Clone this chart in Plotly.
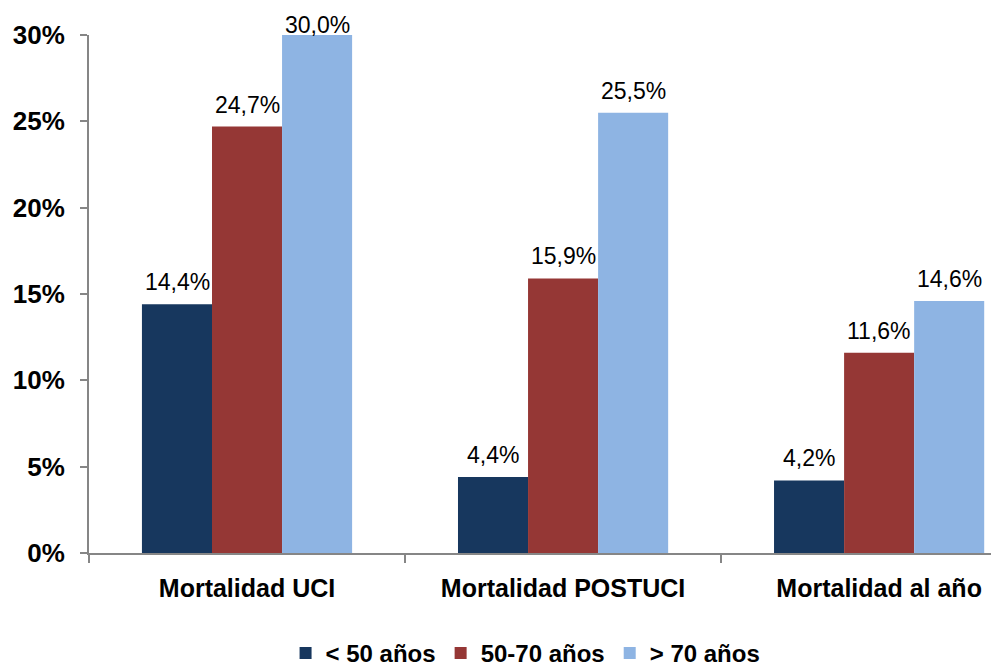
import plotly.graph_objects as go

categories = ["Mortalidad UCI", "Mortalidad POSTUCI", "Mortalidad al año"]
series_names = ["< 50 años", "50-70 años", "> 70 años"]
values_lt50 = [0.144, 0.044, 0.042]
values_50_70 = [0.247, 0.159, 0.116]
values_gt70 = [0.300, 0.255, 0.146]
labels_lt50 = ["14,4%", "4,4%", "4,2%"]
labels_50_70 = ["24,7%", "15,9%", "11,6%"]
labels_gt70 = ["30,0%", "25,5%", "14,6%"]
colors = ["#17375E", "#953735", "#8EB4E3"]
y_ticks = [0, 0.05, 0.10, 0.15, 0.20, 0.25, 0.30]
y_ticktext = ["0%", "5%", "10%", "15%", "20%", "25%", "30%"]

all_vals = [values_lt50, values_50_70, values_gt70]
all_labs = [labels_lt50, labels_50_70, labels_gt70]
ymax = 0.30
bar_px = 70  # pixel width of one bar, for label offsets

fig = go.Figure()
for i, (name, vals, labs, col) in enumerate(zip(series_names, all_vals, all_labs, colors)):
    fig.add_trace(go.Bar(
        x=categories, y=vals, name=name, marker_color=col,
        marker_line_width=0,
    ))
    for cat, v, lab in zip(categories, vals, labs):
        fig.add_annotation(
            x=cat, y=v, xref="x", yref="y", text=lab, showarrow=False,
            xanchor="center", yanchor="bottom",
            xshift=(i - 1) * bar_px, yshift=(-5 if v >= ymax else 7),
            font=dict(family="Liberation Sans, Arial", size=23, color="black"),
        )

fig.update_layout(
    width=991, height=671,
    margin=dict(l=89, r=0, t=35, b=118, autoexpand=False),
    paper_bgcolor="white", plot_bgcolor="white",
    barmode="group", bargap=0.335, bargroupgap=0,
    font=dict(family="Liberation Sans, Arial", color="black"),
    showlegend=True,
    legend=dict(orientation="h", x=0.484, xanchor="center",
                yref="paper", y=-0.194, yanchor="middle",
                font=dict(size=24, family="Liberation Sans, Arial", weight="bold"),
                itemwidth=30, traceorder="normal"),
)
fig.update_xaxes(
    type="category", range=[-0.5, 2.354], automargin=False,
    showline=True, linecolor="#868686", linewidth=2,
    ticks="outside", ticklen=8, tickcolor="#868686", tickwidth=2,
    tickson="boundaries",
    tickfont=dict(size=25, family="Liberation Sans, Arial", weight="bold"),
    showgrid=False, ticklabelstandoff=12,
)
fig.update_yaxes(
    range=[0, ymax], tickvals=y_ticks, ticktext=y_ticktext, automargin=False,
    showline=True, linecolor="#868686", linewidth=2,
    ticks="outside", ticklen=7, tickcolor="#868686", tickwidth=2,
    tickfont=dict(size=26, family="Liberation Sans, Arial", weight="bold"),
    showgrid=False, zeroline=False, ticklabelstandoff=10,
)

fig.write_html("out.html")
